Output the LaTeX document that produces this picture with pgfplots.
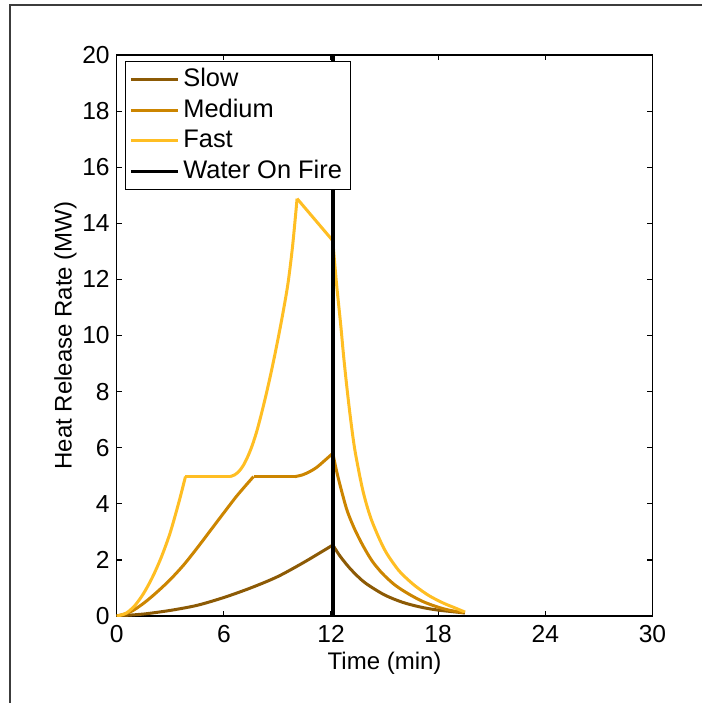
\documentclass[border=0pt]{standalone}
\usepackage{fontspec}
\setmainfont{Liberation Sans}
\usepackage{pgfplots}
\pgfplotsset{compat=1.18}
\definecolor{cslow}{RGB}{140,90,5}
\definecolor{cmed}{RGB}{204,133,0}
\definecolor{cfast}{RGB}{255,190,35}
\definecolor{frame}{RGB}{60,60,60}
\begin{document}
\begin{tikzpicture}
\useasboundingbox (0,0) rectangle (351pt,351.5pt);
\draw[frame, line width=1.3pt] (5pt,0pt) -- (5pt,349pt) -- (352pt,349pt);
\begin{axis}[
  at={(58.35pt,43.5pt)}, anchor=south west,
  scale only axis, width=267.9pt, height=280.5pt,
  xmin=0, xmax=30, ymin=0, ymax=20,
  xtick={0,6,...,30}, ytick={0,2,...,20},
  axis line style={line width=0.6pt},
  tick style={line width=0.6pt, black},
  major tick length=2.6pt,
  /pgf/number format/assume math mode=true,
  tick label style={font=\fontsize{12.3}{14}\selectfont},
  xticklabel style={yshift=-1pt},
  label style={font=\fontsize{12}{14}\selectfont},
  xlabel={Time (min)}, ylabel={Heat Release Rate (MW)},
  xlabel style={yshift=2pt},
  ylabel style={yshift=-4pt},
  legend cell align=left,
  legend style={at={(0.0155,0.989)}, anchor=north west, draw=black,
    font=\fontsize{12.7}{14}\selectfont, inner xsep=2pt, inner ysep=1.5pt, row sep=0pt,
    nodes={inner sep=2pt, text height=9pt, text depth=2.25pt}},
  legend image code/.code={\draw[#1, line width=1.5pt] (0pt,0pt) -- (23.5pt,0pt);},
  every axis plot/.append style={line width=1.5pt},
]
% Slow
\addplot[cslow, smooth] coordinates {
(0,0) (1.5,0.07) (3,0.2) (4.5,0.38) (6,0.66) (7.5,1.0) (9,1.4) (10.5,1.92) (12.1,2.53)
};
\addlegendentry{Slow}
\addplot[cmed, smooth] coordinates {
(0,0) (0.75,0.14) (1.5,0.45) (2.25,0.85) (3,1.3) (3.75,1.82) (4.5,2.42) (5.25,3.05) (6,3.68) (6.75,4.3) (7.66,4.97)
};
\addlegendentry{Medium}
\addplot[cfast, smooth] coordinates {
(0,0) (0.5,0.09) (1,0.36) (1.5,0.8) (2,1.38) (2.5,2.1) (3,2.98) (3.5,4.1) (3.85,4.97)
};
\addlegendentry{Fast}
\addplot[black, line width=1.7pt] coordinates {(12.1,0) (12.1,20)};
\addlegendentry{Water On Fire}
% remaining segments
\addplot[cslow, smooth, forget plot] coordinates {
(12.1,2.53) (12.5,2.14) (13,1.74) (13.5,1.41) (14,1.14) (15,0.75) (16,0.49) (17,0.32) (18,0.21) (19.5,0.11)
};
\addplot[cmed, forget plot] coordinates {(7.66,4.97) (9.98,4.97)};
\addplot[cmed, smooth, forget plot] coordinates {
(9.98,4.97) (10.4,5.03) (10.82,5.15) (11.2,5.3) (11.57,5.5) (12.1,5.8)
};
\addplot[cmed, smooth, forget plot] coordinates {
(12.1,5.8) (12.3,5.2) (12.5,4.68) (12.88,3.8) (13.25,3.2) (13.62,2.71) (14,2.27) (14.37,1.9) (14.9,1.5) (15.49,1.15) (16,0.92) (16.61,0.69) (17.2,0.5) (17.92,0.33) (18.6,0.21) (19.4,0.12)
};
\addplot[cfast, forget plot] coordinates {(3.85,4.97) (6.34,4.97)};
\addplot[cfast, smooth, forget plot] coordinates {
(6.34,4.97) (6.6,5.03) (6.85,5.16) (7.1,5.38) (7.35,5.7) (7.6,6.1) (7.85,6.6) (8.1,7.2) (8.35,7.85) (8.6,8.55) (8.85,9.3) (9.1,10.1) (9.35,10.95) (9.6,11.9) (9.85,13.2) (10.1,14.88)
};
\addplot[cfast, forget plot] coordinates {(10.1,14.88) (12.1,13.38)};
\addplot[cfast, smooth, forget plot] coordinates {
(12.1,13.38) (12.3,11.9) (12.54,10.4) (12.7,9.3) (12.88,8.2) (13.1,7.0) (13.34,5.9) (13.72,4.65) (14.0,3.95) (14.28,3.4) (14.7,2.76) (15.12,2.23) (15.77,1.64) (16.3,1.3) (16.8,1.03) (17.5,0.72) (18.29,0.46) (18.9,0.3) (19.5,0.14)
};
% redraw water line on top
\addplot[black, line width=1.7pt, forget plot] coordinates {(12.1,0) (12.1,20)};
\end{axis}
\end{tikzpicture}
\end{document}
